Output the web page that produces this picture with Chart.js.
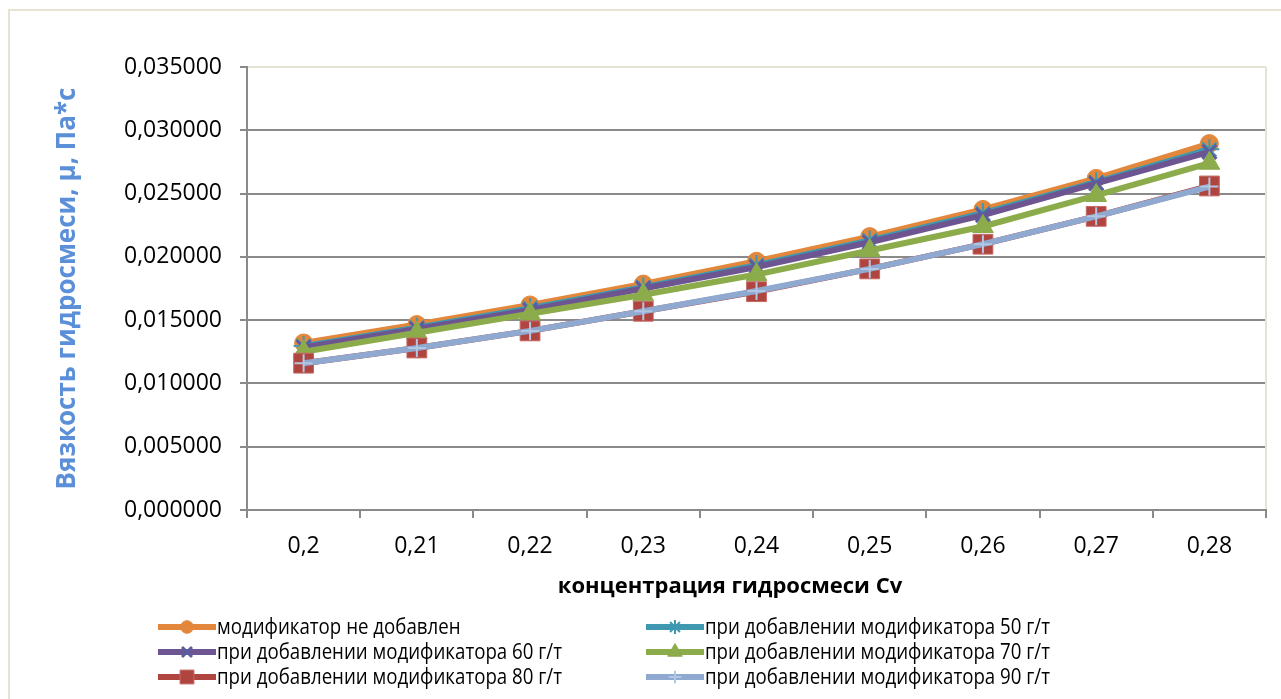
<!DOCTYPE html>
<html>
<head>
<meta charset="utf-8">
<script src="https://cdn.jsdelivr.net/npm/chart.js@4.4.0/dist/chart.umd.min.js"></script>
<style>
  html, body { margin: 0; padding: 0; background: #fff; }
  #wrap { width: 1281px; height: 699px; }
</style>
</head>
<body>
<div id="wrap"><canvas id="viscChart" width="1281" height="699"></canvas></div>
<script>
// концентрация гидросмеси Cv
const concentrations = ['0,2', '0,21', '0,22', '0,23', '0,24', '0,25', '0,26', '0,27', '0,28'];

// вязкость, Па*с
const noModifier = [0.01320, 0.01465, 0.01620, 0.01785, 0.01965, 0.02160, 0.02375, 0.02620, 0.02895];
const modifier50 = [0.01295, 0.01440, 0.01595, 0.01760, 0.01935, 0.02130, 0.02345, 0.02590, 0.02850];
const modifier60 = [0.01285, 0.01430, 0.01580, 0.01750, 0.01920, 0.02115, 0.02330, 0.02580, 0.02830];
const modifier70 = [0.01250, 0.01400, 0.01550, 0.01700, 0.01860, 0.02050, 0.02240, 0.02485, 0.02740];
const modifier80 = [0.01160, 0.01280, 0.01415, 0.01570, 0.01725, 0.01905, 0.02100, 0.02320, 0.02560];
const modifier90 = [0.01160, 0.01280, 0.01415, 0.01570, 0.01730, 0.01905, 0.02100, 0.02320, 0.02555];

const seriesNames = [
    'модификатор не добавлен',
    'при добавлении модификатора 50 г/т',
    'при добавлении модификатора 60 г/т',
    'при добавлении модификатора 70 г/т',
    'при добавлении модификатора 80 г/т',
    'при добавлении модификатора 90 г/т'
];

const yTickValues = [0, 0.005, 0.010, 0.015, 0.020, 0.025, 0.030, 0.035];

const xTitle = 'концентрация гидросмеси Cv';
const yTitle = 'Вязкость гидросмеси, μ, Па*с';

const FONT = "'Open Sans', 'Noto Sans', sans-serif";
const GRID = '#8a8a8a';
const FRAME = '#e6e2d4';

function makeSeries(label, data, color, style, radius, markerFill, markerBorder, markerWidth, order) {
    return {
        label: label,
        data: data,
        borderColor: color,
        backgroundColor: color,
        borderWidth: 6,
        tension: 0,
        pointStyle: style,
        pointRadius: radius,
        pointHoverRadius: radius,
        pointBackgroundColor: markerFill,
        pointBorderColor: markerBorder,
        pointBorderWidth: markerWidth,
        order: order // последняя серия рисуется поверх
    };
}

const datasets = [
    makeSeries(seriesNames[0], noModifier, '#e2873b', 'circle', 9, '#e2873b', '#e2873b', 1, 5),
    makeSeries(seriesNames[1], modifier50, '#3f98b0', 'star', 10, '#3f98b0', '#3f98b0', 2, 4),
    makeSeries(seriesNames[2], modifier60, '#6d5592', 'crossRot', 10, '#5b5d9f', '#5b5d9f', 3, 3),
    makeSeries(seriesNames[3], modifier70, '#8cab4b', 'triangle', 12, '#8cab4b', '#8cab4b', 1, 2),
    makeSeries(seriesNames[4], modifier80, '#b0443f', 'rect', 14, '#b0443f', '#c46a66', 1, 1),
    makeSeries(seriesNames[5], modifier90, '#8fa9d0', 'cross', 9, '#b3c6e3', '#b3c6e3', 2, 0)
];

// рамки области диаграммы и построения
const framePlugin = {
    id: 'frame',
    beforeDraw(chart) {
        const ctx = chart.ctx;
        ctx.save();
        ctx.strokeStyle = FRAME;
        ctx.lineWidth = 2;
        ctx.strokeRect(9, 10, chart.width + 10, chart.height + 10);
        ctx.restore();
    },
    afterDatasetsDraw(chart) {
        const a = chart.chartArea;
        const ctx = chart.ctx;
        ctx.save();
        ctx.strokeStyle = FRAME;
        ctx.lineWidth = 2;
        ctx.beginPath();
        ctx.moveTo(a.right, a.top);
        ctx.lineTo(a.right, a.bottom - 1);
        ctx.stroke();
        ctx.restore();
    }
};

// подпись оси X (в Excel она смещена левее центра области построения)
const xTitlePlugin = {
    id: 'xTitle',
    afterDraw(chart) {
        const ctx = chart.ctx;
        ctx.save();
        ctx.font = 'bold 22px ' + FONT;
        ctx.fillStyle = '#000';
        ctx.textAlign = 'center';
        ctx.textBaseline = 'middle';
        ctx.fillText(xTitle, 730, 587);
        ctx.restore();
    }
};

// легенда в две колонки
const legendColumns = [158, 646];
const legendRows = [627, 652, 677];
const twoColumnLegend = {
    id: 'twoColumnLegend',
    afterDraw(chart) {
        const ctx = chart.ctx;
        ctx.save();
        ctx.font = '21px ' + FONT;
        const squeeze = 345 / ctx.measureText(seriesNames[1]).width;
        chart.data.datasets.forEach((ds, i) => {
            const x = legendColumns[i % 2];
            const y = legendRows[Math.floor(i / 2)];
            ctx.save();
            ctx.strokeStyle = ds.borderColor;
            ctx.lineWidth = 6;
            ctx.beginPath();
            ctx.moveTo(x, y);
            ctx.lineTo(x + 58, y);
            ctx.stroke();
            ctx.fillStyle = ds.pointBackgroundColor;
            ctx.strokeStyle = ds.pointBorderColor;
            ctx.lineWidth = ds.pointBorderWidth;
            Chart.helpers.drawPoint(ctx, {
                pointStyle: ds.pointStyle,
                radius: ds.pointRadius * 0.7,
                borderWidth: ds.pointBorderWidth,
                rotation: 0
            }, x + 29, y);
            ctx.translate(x + 59, y);
            ctx.scale(squeeze, 1);
            ctx.fillStyle = '#000';
            ctx.textBaseline = 'middle';
            ctx.textAlign = 'left';
            ctx.fillText(ds.label, 0, 1);
            ctx.restore();
        });
        ctx.restore();
    }
};

Chart.defaults.font.family = FONT;
Chart.defaults.color = '#000';

new Chart(document.getElementById('viscChart'), {
    type: 'line',
    data: { labels: concentrations, datasets: datasets },
    options: {
        responsive: false,
        animation: false,
        devicePixelRatio: 1,
        layout: { padding: { top: 67, right: 6, bottom: 95, left: 0 } },
        plugins: {
            legend: { display: false },
            tooltip: { enabled: false }
        },
        scales: {
            x: {
                offset: true,
                grid: {
                    offset: true,
                    drawOnChartArea: false,
                    tickLength: 8,
                    color: GRID,
                    lineWidth: 2
                },
                border: { color: GRID, width: 2 },
                ticks: { font: { size: 23 }, padding: 15, color: '#000' },
                afterFit(scale) { scale.height = 94; }
            },
            y: {
                min: 0,
                max: 0.035,
                afterBuildTicks(scale) {
                    scale.ticks = yTickValues.map(v => ({ value: v }));
                },
                grid: {
                    tickLength: 7,
                    lineWidth: 2,
                    color: c => (c.tick && c.tick.value === 0.035 ? FRAME : GRID),
                    tickColor: GRID
                },
                border: { color: GRID, width: 2 },
                ticks: {
                    font: { size: 23 },
                    padding: 18,
                    color: '#000',
                    callback: v => v.toFixed(6).replace('.', ',')
                },
                title: {
                    display: true,
                    text: yTitle,
                    font: { size: 26, weight: 'bold' },
                    color: '#5b8fd8',
                    padding: { top: 52, bottom: 0 }
                },
                afterFit(scale) { scale.width = 247; }
            }
        }
    },
    plugins: [framePlugin, xTitlePlugin, twoColumnLegend]
});
</script>
</body>
</html>
